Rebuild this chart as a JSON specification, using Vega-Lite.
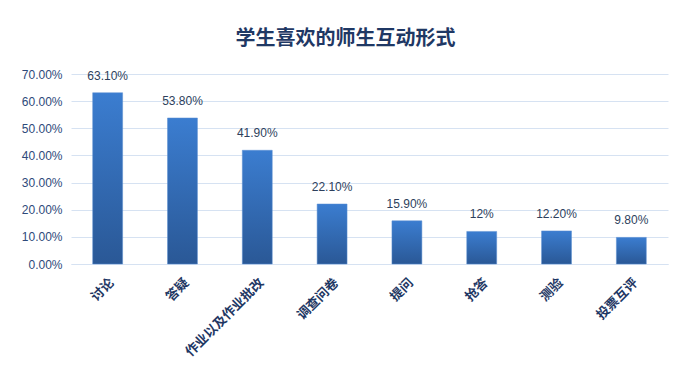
{
  "$schema": "https://vega.github.io/schema/vega-lite/v6.json",
  "autosize": "none",
  "width": 597,
  "height": 190,
  "padding": {"left": 71, "top": 74, "right": 32, "bottom": 125},
  "background": "white",
  "title": {"text": "学生喜欢的师生互动形式", "font": "Noto Sans CJK SC", "fontSize": 20, "fontWeight": "bold", "color": "#1f3864", "anchor": "middle", "offset": 19, "dx": -24},
  "data": {"values": [
    {"cat": "讨论", "v": 0.631, "lbl": "63.10%"},
    {"cat": "答疑", "v": 0.538, "lbl": "53.80%"},
    {"cat": "作业以及作业批改", "v": 0.419, "lbl": "41.90%"},
    {"cat": "调查问卷", "v": 0.221, "lbl": "22.10%"},
    {"cat": "提问", "v": 0.159, "lbl": "15.90%"},
    {"cat": "抢答", "v": 0.12, "lbl": "12%"},
    {"cat": "测验", "v": 0.122, "lbl": "12.20%"},
    {"cat": "投票互评", "v": 0.098, "lbl": "9.80%"}
  ]},
  "encoding": {
    "x": {"field": "cat", "type": "nominal", "sort": null, "title": null,
      "scale": {"paddingInner": 0.6, "paddingOuter": 0.29},
      "axis": {"labelAngle": -45, "labelFont": "Noto Sans CJK SC", "labelFontSize": 13, "labelFontWeight": "bold", "labelColor": "#1f3864", "ticks": false, "domainColor": "#d6e2f2", "labelPadding": 12}},
    "y": {"field": "v", "type": "quantitative", "title": null,
      "scale": {"domain": [0, 0.7]},
      "axis": {"format": ".2%", "values": [0, 0.1, 0.2, 0.3, 0.4, 0.5, 0.6, 0.7], "labelOverlap": false, "domain": false, "ticks": false, "gridColor": "#d6e2f2", "labelFont": "Liberation Sans", "labelFontSize": 12, "labelColor": "#2e4a7a", "labelPadding": 9}}
  },
  "layer": [
    {"mark": {"type": "bar", "color": {"gradient": "linear", "x1": 0, "y1": 0, "x2": 0, "y2": 1, "stops": [{"offset": 0, "color": "#3b7dd0"}, {"offset": 1, "color": "#2a5896"}]}, "stroke": "#5b8fd0", "strokeWidth": 0.5}},
    {"mark": {"type": "text", "dy": -17, "font": "Liberation Sans", "fontSize": 12, "color": "#2e3f5c"}, "encoding": {"text": {"field": "lbl"}}}
  ],
  "config": {"view": {"stroke": null}}
}
